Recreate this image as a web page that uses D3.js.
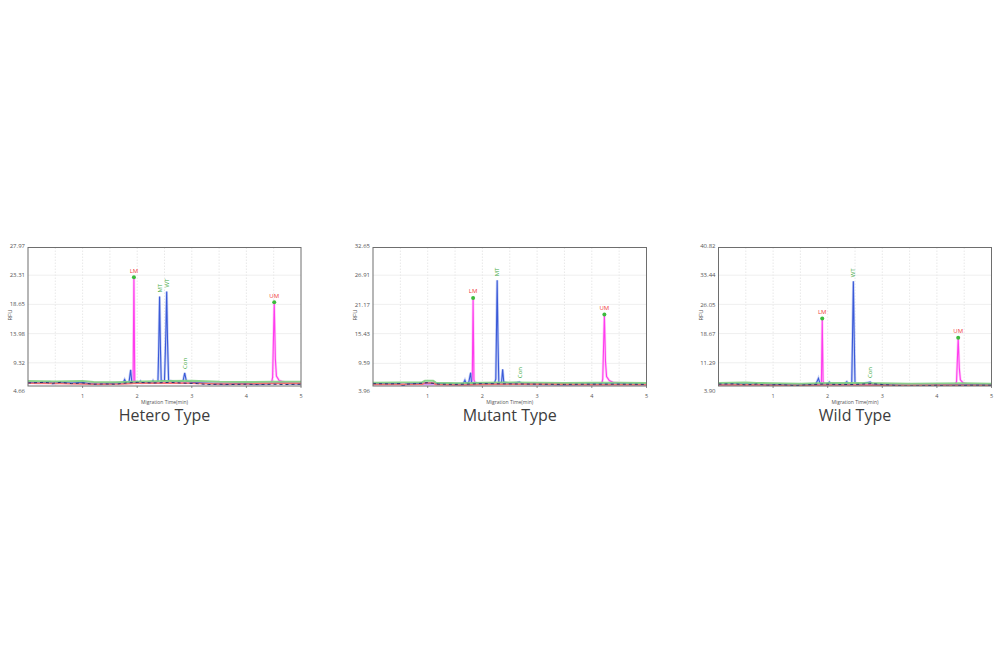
<!DOCTYPE html>
<html><head><meta charset="utf-8">
<script src="https://cdn.jsdelivr.net/npm/d3@7"></script>
<style>body{margin:0;background:#fff}svg{display:block}</style>
</head><body>
<svg id="chart" width="1000" height="667"></svg>
<script>
// ---------- DATA ----------
const titles = ["Hetero Type", "Mutant Type", "Wild Type"];
const xTicks = [1, 2, 3, 4, 5];
const heteroYTicks = [4.66, 9.32, 13.98, 18.65, 23.31, 27.97];
const mutantYTicks = [3.96, 9.59, 15.43, 21.17, 26.91, 32.65];
const wildYTicks = [3.90, 11.29, 18.67, 26.05, 33.44, 40.82];

const heteroBlue = [[0,6.2],[0.2,6.1],[0.4,6.3],[0.45,6.0],[0.6,6.2],[0.8,6.1],[1.0,6.2],[1.1,6.0],[1.3,5.9],[1.5,6.0],[1.6,6.1],[1.74,6.1],[1.77,6.66],[1.8,6.1],[1.85,6.2],[1.88,8.2],[1.9,6.3],[1.97,6.1],[2.04,6.2],[2.06,6.4],[2.08,6.1],[2.27,6.2],[2.29,6.5],[2.31,6.2],[2.38,6.3],[2.395,12],[2.41,19.9],[2.425,12],[2.44,6.4],[2.5,6.5],[2.525,14],[2.54,20.7],[2.555,13],[2.575,6.5],[2.7,6.3],[2.84,6.4],[2.87,7.7],[2.9,6.4],[3.0,6.2],[3.2,6.1],[3.4,6.0],[3.6,5.9],[3.8,6.0],[4.0,6.0],[4.2,5.9],[4.4,6.0],[4.6,6.1],[4.8,6.0],[5,6.0]];
const heteroMagenta = [[0,6.1],[1.9,6.1],[1.925,6.3],[1.94,23.0],[1.955,6.5],[1.98,6.1],[4.46,6.1],[4.48,7.0],[4.51,18.97],[4.53,10],[4.55,7.2],[4.6,6.5],[4.7,6.2],[5,6.1]];
const heteroGreen = [[0,6.4],[0.5,6.35],[1.0,6.4],[1.2,6.25],[1.6,6.2],[1.9,6.3],[2.5,6.4],[3.0,6.45],[3.5,6.3],[4.0,6.25],[4.5,6.3],[5,6.3]];
const heteroRed = [[0,6.05],[0.6,6.0],[1.0,5.95],[1.3,5.9],[1.7,5.95],[2.0,6.05],[2.6,6.1],[3.0,6.05],[3.5,5.95],[4.0,5.95],[4.5,6.0],[5,6.0]];
const heteroNavy = [[0,6.1],[0.3,6.2],[0.45,6.05],[0.6,6.2],[0.8,6.0],[1.0,6.1],[1.2,5.9],[1.4,5.95],[1.6,5.9],[1.8,6.1],[2.0,6.2],[2.3,6.1],[2.6,6.2],[2.8,6.1],[3.1,6.0],[3.3,5.85],[3.5,5.9],[3.7,5.85],[4.0,5.9],[4.2,5.85],[4.5,5.9],[4.7,5.85],[5,5.9]];
const heteroLabels = [["LM",1.94,23.0,"dot"],["MT",2.41,19.9,"rot"],["WT",2.54,20.7,"rot"],["Con",2.87,7.7,"rot"],["UM",4.51,18.97,"dot"]];

const mutantBlue = [[0,5.6],[0.5,5.6],[0.55,5.1],[0.6,5.55],[1.0,5.7],[1.5,5.5],[1.65,5.6],[1.68,6.3],[1.7,5.7],[1.75,5.8],[1.785,7.75],[1.8,5.8],[1.9,5.7],[2.1,5.6],[2.22,5.7],[2.245,6.5],[2.255,14],[2.27,25.9],[2.285,14],[2.3,5.8],[2.35,5.8],[2.37,8.4],[2.39,5.9],[2.5,5.6],[2.68,5.9],[2.72,5.6],[3.0,5.5],[3.5,5.4],[4.0,5.5],[4.5,5.5],[5,5.45]];
const mutantMagenta = [[0,5.5],[1.79,5.5],[1.815,6.2],[1.83,22.45],[1.845,6.4],[1.87,5.6],[4.18,5.5],[4.2,6.5],[4.23,19.2],[4.25,10],[4.27,7],[4.32,6.2],[4.4,5.8],[4.6,5.6],[5,5.5]];
const mutantGreen = [[0,5.8],[0.5,5.85],[0.9,5.9],[0.95,6.15],[1.1,6.15],[1.15,5.8],[1.6,5.7],[2.0,5.8],[2.5,5.85],[3.0,5.8],[3.5,5.75],[4.0,5.8],[4.5,5.8],[5,5.75]];
const mutantRed = [[0,5.45],[0.9,5.5],[0.95,5.75],[1.1,5.75],[1.15,5.45],[1.6,5.35],[2.0,5.45],[3.0,5.5],[4.0,5.4],[5,5.4]];
const mutantNavy = [[0,5.6],[0.3,5.55],[0.5,5.6],[0.55,5.05],[0.6,5.5],[0.8,5.6],[1.0,5.8],[1.2,5.5],[1.5,5.45],[1.7,5.5],[2.0,5.6],[2.5,5.55],[3.0,5.5],[3.5,5.45],[4.0,5.5],[4.5,5.5],[5,5.45]];
const mutantLabels = [["LM",1.83,22.45,"dot"],["MT",2.27,25.9,"rot"],["Con",2.68,5.9,"rot"],["UM",4.23,19.2,"dot"]];

const wildBlue = [[0,5.9],[0.5,6.0],[1.0,5.8],[1.5,5.7],[1.78,5.9],[1.8,6.4],[1.83,7.35],[1.86,6.0],[1.95,5.9],[2.0,6.0],[2.03,6.4],[2.06,5.9],[2.3,5.9],[2.35,6.5],[2.38,5.9],[2.44,6.0],[2.455,18],[2.47,31.9],[2.485,18],[2.5,6.1],[2.6,5.9],[2.78,6.4],[2.82,5.9],[3.0,5.8],[3.5,5.6],[4.0,5.7],[4.5,5.8],[5,5.7]];
const wildMagenta = [[0,5.8],[1.86,5.8],[1.885,6.5],[1.9,22.5],[1.915,6.6],[1.94,5.9],[4.34,5.8],[4.36,6.6],[4.39,17.6],[4.41,10],[4.43,7],[4.48,6.2],[4.55,5.9],[5,5.8]];
const wildGreen = [[0,6.2],[0.5,6.3],[0.7,6.2],[1.0,6.1],[1.5,6.0],[1.8,6.1],[2.1,6.2],[2.5,6.15],[3.0,6.1],[3.5,6.0],[4.0,6.05],[4.5,6.1],[5,6.0]];
const wildRed = [[0,5.7],[0.5,5.75],[1.0,5.6],[1.5,5.55],[2.0,5.7],[2.5,5.7],[3.0,5.6],[3.5,5.55],[4.0,5.6],[4.5,5.6],[5,5.55]];
const wildNavy = [[0,5.9],[0.3,5.95],[0.5,5.7],[0.7,5.9],[0.9,5.6],[1.1,5.8],[1.4,5.5],[1.6,5.7],[1.9,5.9],[2.2,5.8],[2.5,5.8],[2.8,6.0],[3.0,5.8],[3.4,5.4],[3.8,5.5],[4.0,5.6],[4.2,5.4],[4.6,5.6],[5,5.6]];
const wildLabels = [["LM",1.9,22.5,"dot"],["WT",2.47,31.9,"rot"],["Con",2.78,6.4,"rot"],["UM",4.39,17.6,"dot"]];

// ---------- LAYOUT ----------
const panels = [
  {title: titles[0], yTicks: heteroYTicks, blue: heteroBlue, magenta: heteroMagenta, green: heteroGreen, red: heteroRed, navy: heteroNavy, labels: heteroLabels, left: 28, right: 301},
  {title: titles[1], yTicks: mutantYTicks, blue: mutantBlue, magenta: mutantMagenta, green: mutantGreen, red: mutantRed, navy: mutantNavy, labels: mutantLabels, left: 373, right: 646.5},
  {title: titles[2], yTicks: wildYTicks, blue: wildBlue, magenta: wildMagenta, green: wildGreen, red: wildRed, navy: wildNavy, labels: wildLabels, left: 718.5, right: 991.5}
];
const frameTop = 247.5, frameBottom = 386;
const svg = d3.select("#chart");
const font = "'Open Sans', 'Noto Sans', 'DejaVu Sans', sans-serif";

panels.forEach((p, i) => {
  const x = d3.scaleLinear().domain([0, 5]).range([p.left, p.right]);
  const yMin = d3.min(p.yTicks), yMax = d3.max(p.yTicks);
  const y = d3.scaleLinear().domain([yMin, yMax]).range([392, 246]);
  const g = svg.append("g");

  const clipId = "clip" + i;
  g.append("clipPath").attr("id", clipId).append("rect")
    .attr("x", p.left).attr("y", frameTop).attr("width", p.right - p.left).attr("height", frameBottom - frameTop);

  const vGrid = d3.range(0.5, 5, 0.5);
  g.selectAll(".vg").data(vGrid).join("line")
    .attr("x1", d => x(d)).attr("x2", d => x(d)).attr("y1", frameTop).attr("y2", frameBottom)
    .attr("stroke", "#e2e2e2").attr("stroke-width", 0.8).attr("stroke-dasharray", "1.5,1.5");
  g.selectAll(".hg").data(p.yTicks.slice(1, -1)).join("line")
    .attr("x1", p.left).attr("x2", p.right).attr("y1", d => y(d)).attr("y2", d => y(d))
    .attr("stroke", "#ebebeb").attr("stroke-width", 0.8);

  const line = d3.line().x(d => x(d[0])).y(d => y(d[1]));
  const traces = g.append("g").attr("clip-path", `url(#${clipId})`);
  traces.append("path").attr("d", line(p.magenta)).attr("fill", "none").attr("stroke", "#ffb8f6").attr("stroke-width", 2.6).attr("opacity", 0.7);
  traces.append("path").attr("d", line(p.magenta)).attr("fill", "none").attr("stroke", "#ff3cee").attr("stroke-width", 1.1);
  traces.append("path").attr("d", line(p.blue)).attr("fill", "none").attr("stroke", "#b0bff2").attr("stroke-width", 2.6).attr("opacity", 0.7);
  traces.append("path").attr("d", line(p.blue)).attr("fill", "none").attr("stroke", "#3a5ad8").attr("stroke-width", 1.1);
  traces.append("path").attr("d", line(p.green)).attr("fill", "none").attr("stroke", "#80cf80").attr("stroke-width", 2).attr("opacity", 0.9);
  traces.append("path").attr("d", line(p.red)).attr("fill", "none").attr("stroke", "#f07070").attr("stroke-width", 1.5);
  traces.append("path").attr("d", line(p.navy)).attr("fill", "none").attr("stroke", "#2a3270").attr("stroke-width", 1).attr("stroke-dasharray", "3,3");

  g.append("rect").attr("x", p.left).attr("y", frameTop).attr("width", p.right - p.left).attr("height", frameBottom - frameTop)
    .attr("fill", "none").attr("stroke", "#6e6e6e").attr("stroke-width", 1);

  g.selectAll(".yl").data(p.yTicks).join("text")
    .attr("x", p.left - 3).attr("y", (d, k) => k === 0 ? y(d) - 1.5 : y(d)).attr("dy", "0.35em")
    .attr("text-anchor", "end").attr("font-family", font).attr("font-size", 6).attr("fill", "#555")
    .text(d => d.toFixed(2));
  g.selectAll(".xl").data(xTicks).join("text")
    .attr("x", d => x(d)).attr("y", 398).attr("text-anchor", "middle")
    .attr("font-family", font).attr("font-size", 5.5).attr("fill", "#555").text(d => d);
  g.selectAll(".xt").data(xTicks).join("line")
    .attr("x1", d => x(d)).attr("x2", d => x(d)).attr("y1", frameBottom).attr("y2", frameBottom + 2)
    .attr("stroke", "#6e6e6e").attr("stroke-width", 0.8);
  g.append("text").attr("x", (p.left + p.right) / 2).attr("y", 404).attr("text-anchor", "middle")
    .attr("font-family", font).attr("font-size", 5).attr("fill", "#555").text("Migration Time(min)");
  g.append("text").attr("transform", `translate(${p.left - 16},315) rotate(-90)`).attr("text-anchor", "middle")
    .attr("font-family", font).attr("font-size", 6).attr("fill", "#555").text("RFU");

  p.labels.forEach(([name, t, v, kind]) => {
    if (kind === "dot") {
      g.append("circle").attr("cx", x(t)).attr("cy", y(v)).attr("r", 2).attr("fill", "#3cbb3c");
      g.append("text").attr("x", x(t)).attr("y", y(v) - 4.5).attr("text-anchor", "middle")
        .attr("font-family", font).attr("font-size", 6).attr("fill", "#f03c3c").text(name);
    } else {
      g.append("text").attr("transform", `translate(${x(t) + 2},${y(v) - 4}) rotate(-90)`)
        .attr("text-anchor", "start").attr("font-family", font).attr("font-size", 6).attr("fill", "#44aa44").text(name);
    }
  });

  g.append("text").attr("x", (p.left + p.right) / 2).attr("y", 421).attr("text-anchor", "middle")
    .attr("font-family", font).attr("font-size", 16).attr("fill", "#3d3d3d").text(p.title);
});
</script>
</body></html>
